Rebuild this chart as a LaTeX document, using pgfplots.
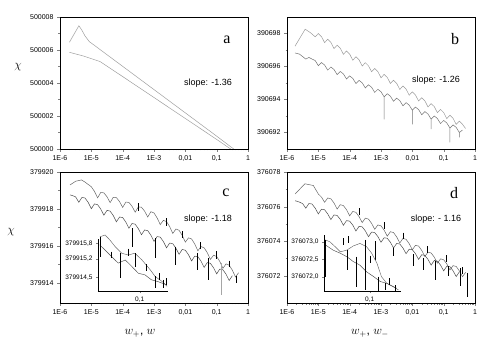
\documentclass[border=0pt]{standalone}
\usepackage{fontspec}
\setmainfont{Liberation Sans}
\newfontfamily\serif{Liberation Serif}
\usepackage{pgfplots}
\pgfplotsset{compat=1.18}

% y values are stored minus a base (500000, 390690, 379910, 376070),
% the full values only appear in the tick labels (FPU precision)
\pgfplotsset{
  panel/.style={scale only axis, width=188pt, anchor=north west,
    xmin=1e-6, xmax=1,
    xtick={1e-6,1e-5,1e-4,1e-3,1e-2,1e-1,1},
    xticklabels={1E-6,1E-5,1E-4,1E-3,0{,}01,0{,}1,1},
    minor y tick num=1, tick align=outside,
    xtick pos=bottom, ytick pos=left,
    major tick length=3pt, minor tick length=1.5pt,
    tick label style={font=\fontsize{7}{8}\selectfont},
    axis line style={line width=0.6pt},
    no markers, unbounded coords=jump,
    every axis plot/.append style={line width=0.5pt}},
  inset/.style={scale only axis, anchor=south west,
    xmin=0.02, xmax=0.3,
    xtick={0.1}, xticklabels={0{,}1},
    axis x line*=bottom, axis y line*=left, axis line style={-, line width=0.5pt},
    tick align=outside, major tick length=2pt, minor tick length=1pt,
    tick label style={font=\fontsize{6.5}{7}\selectfont},
    no markers, unbounded coords=jump, clip=false,
    every axis plot/.append style={line width=0.45pt}},
}

\begin{document}
\begin{tikzpicture}
\path[use as bounding box] (0,-357pt) rectangle (491pt,0);

% ---- a
\begin{axis}[xmode=log, panel, at={(60pt,-17pt)}, height=132pt,
  ymin=0, ymax=8, ytick={0,2,4,6,8},
  yticklabels={500000,500002,500004,500006,500008}]
\addplot[gray!75] coordinates {(2e-6,6.47) (4e-6,7.47) (5e-6,7.2) (6.3e-6,6.85) (8.7e-6,6.5)
  (1e-5,6.42) (1e-4,5.01) (1e-3,3.60) (1e-2,2.19) (0.1,0.78) (0.35,0.0)};
\addplot[gray!75] coordinates {(2e-6,5.86) (5.5e-6,5.64) (1.9e-5,5.3)
  (1e-4,4.39) (1e-3,3.12) (1e-2,1.85) (0.1,0.58) (0.28,0.0)};
\end{axis}

% ---- b
\begin{axis}[xmode=log, panel, at={(287pt,-17pt)}, height=132pt,
  ymin=1, ymax=9, ytick={2,4,6,8},
  yticklabels={390692,390694,390696,390698}]
\addplot[gray!80] coordinates {(1.8e-6,7.23) (3.8e-6,8.26) (5.6e-6,8.05) (7.943e-6,7.80)
  (1e-5,8.00) (1.259e-5,7.81) (1.585e-5,7.45) (1.995e-5,7.65) (2.512e-5,7.46) (3.162e-5,7.09)
  (3.981e-5,7.29) (5.012e-5,7.11) (6.310e-5,6.74) (7.943e-5,6.94) (1e-4,6.75) (1.259e-4,6.38)
  (1.585e-4,6.59) (1.995e-4,6.40) (2.512e-4,6.03) (3.162e-4,6.23) (3.981e-4,6.04) (5.012e-4,5.68)
  (6.310e-4,5.88) (7.943e-4,5.69) (1e-3,5.32) (1.259e-3,5.52) (1.585e-3,5.34) (1.995e-3,4.97)
  (2.512e-3,5.17) (3.162e-3,4.98) (3.981e-3,4.61) (5.012e-3,4.82) (6.310e-3,4.63) (7.943e-3,4.26)
  (1e-2,4.46) (1.259e-2,4.27) (1.585e-2,3.91) (1.995e-2,4.11) (2.512e-2,3.92) (3.162e-2,3.55)
  (3.981e-2,3.75) (5.012e-2,3.57) (6.310e-2,3.20) (7.943e-2,3.40) (0.1,3.21) (0.1259,2.84)
  (0.1585,3.05) (0.1995,2.86) (0.2512,2.49) (0.3162,2.69) (0.3981,2.50) (0.5012,2.24)};
\addplot[gray!90!black] coordinates {(1.8e-6,6.82) (2.512e-6,6.75) (3.162e-6,6.60) (3.981e-6,6.45)
  (5.012e-6,6.55) (6.310e-6,6.45) (7.943e-6,6.36) (1e-5,6.05) (1.259e-5,6.24) (1.585e-5,6.09)
  (1.995e-5,5.78) (2.512e-5,5.97) (3.162e-5,5.82) (3.981e-5,5.51) (5.012e-5,5.70) (6.310e-5,5.55)
  (7.943e-5,5.24) (1e-4,5.43) (1.259e-4,5.28) (1.585e-4,4.97) (1.995e-4,5.16) (2.512e-4,5.01)
  (3.162e-4,4.70) (3.981e-4,4.89) (5.012e-4,4.74) (6.310e-4,4.43) (7.943e-4,4.62) (1e-3,4.47)
  (1.259e-3,4.16) (1.259e-3,2.8) (1.259e-3,4.16) (1.585e-3,4.35) (1.995e-3,4.20) (2.512e-3,3.89)
  (3.162e-3,4.08) (3.981e-3,3.93) (5.012e-3,3.62) (6.310e-3,3.81) (7.943e-3,3.66)
  (1e-2,3.35) (1e-2,2.5) (1e-2,3.35) (1.259e-2,3.54) (1.585e-2,3.39) (1.995e-2,3.08)
  (2.512e-2,3.27) (3.162e-2,3.12) (3.981e-2,2.81) (3.981e-2,2.2) (3.981e-2,2.81) (5.012e-2,3.00)
  (6.310e-2,2.85) (7.943e-2,2.54) (0.1,2.73) (0.1259,2.58) (0.1585,2.27) (0.1585,1.4) (0.1585,2.27)
  (0.1995,2.46) (0.2512,2.31) (0.3162,2.00) (0.3162,1.7) (0.3162,2.00) (0.3981,2.15)};
\end{axis}

% ---- c
\begin{axis}[xmode=log, panel, at={(60pt,-172pt)}, height=131pt,
  ymin=2.9, ymax=10, ytick={4,6,8,10},
  yticklabels={379914,379916,379918,379920}]
\addplot[black!60] coordinates {(2.09e-6,9.30) (3.162e-6,9.50) (4.9e-6,9.57) (6.31e-6,9.45)
  (1e-5,9.20) (1.259e-5,8.95) (1.585e-5,8.60) (1.995e-5,8.89) (2.512e-5,8.87) (3.162e-5,8.66)
  (3.981e-5,8.34) (5.012e-5,8.63) (6.310e-5,8.61) (7.943e-5,8.40) (1e-4,8.08) (1.259e-4,8.37)
  (1.585e-4,8.35) (1.995e-4,8.14) (2.512e-4,7.82) (3.162e-4,8.11) (3.981e-4,8.09) (5.012e-4,7.88)
  (6.310e-4,7.56) (7.943e-4,7.85) (1e-3,7.78) (1.259e-3,7.51) (1.585e-3,7.15) (1.995e-3,7.38)
  (2.512e-3,7.31) (3.162e-3,7.04) (3.981e-3,6.67) (5.012e-3,6.91) (6.310e-3,6.84) (7.943e-3,6.57)
  (1e-2,6.20) (1.259e-2,6.43) (1.585e-2,6.37) (1.995e-2,6.10) (2.512e-2,5.73) (3.162e-2,5.96)
  (3.981e-2,5.89) (5.012e-2,5.63) (6.310e-2,5.26) (7.943e-2,5.49) (0.1,5.42) (0.1259,5.15)
  (0.1585,4.78) (0.1995,5.02) (0.2512,4.95) (0.3162,4.68) (0.3981,4.31) (0.5012,4.54)};
\addplot[black!70] coordinates {(2.09e-6,8.76) (2.512e-6,8.72) (3.162e-6,8.65) (3.981e-6,8.36)
  (5.012e-6,8.62) (6.310e-6,8.59) (7.943e-6,8.35) (1e-5,8.01) (1.259e-5,8.27) (1.585e-5,8.23)
  (1.995e-5,7.99) (2.512e-5,7.66) (3.162e-5,7.92) (3.981e-5,7.88) (5.012e-5,7.64) (6.310e-5,7.30)
  (7.943e-5,7.56) (1e-4,7.53) (1.259e-4,7.29) (1.585e-4,6.95) (1.995e-4,7.21) (2.512e-4,7.17)
  (3.162e-4,6.93) (3.981e-4,6.60) (5.012e-4,6.86) (6.310e-4,6.82) (7.943e-4,6.58) (1e-3,6.24)
  (1.259e-3,6.50) (1.585e-3,6.47) (1.995e-3,6.23) (2.512e-3,5.89) (3.162e-3,6.15) (3.981e-3,6.11)
  (5.012e-3,5.87) (6.310e-3,5.54) (7.943e-3,5.80) (1e-2,5.76) (1.259e-2,5.52) (1.585e-2,5.18)
  (1.995e-2,5.44) (2.512e-2,5.41) (3.162e-2,5.17) (3.981e-2,4.83) (5.012e-2,5.09) (6.310e-2,5.05)
  (7.943e-2,4.81) (0.1,4.48) (0.1259,4.74) (0.1585,4.70) (0.1995,4.46) (0.2512,4.12) (0.3162,4.38)};
% spikes
\addplot[black] coordinates {(1.95e-4,6.96) (1.95e-4,5.96) (1.95e-4,nan)
  (1.07e-3,6.42) (1.07e-3,5.34) (1.07e-3,nan) (4.68e-3,5.96) (4.68e-3,4.97) (4.68e-3,nan)
  (2.45e-2,5.61) (2.45e-2,4.70) (2.45e-2,nan) (5.37e-2,5.34) (5.37e-2,4.16) (5.37e-2,nan)
  (0.417,4.34) (0.417,3.98) (0.417,nan)
  (3.2e-4,8.3) (3.2e-4,7.9) (3.2e-4,nan) (2.5e-3,7.5) (2.5e-3,7.1) (2.5e-3,nan)
  (8e-3,6.8) (8e-3,6.4) (8e-3,nan) (3e-2,6.2) (3e-2,5.8) (3e-2,nan)
  (0.1,5.7) (0.1,5.3) (0.1,nan) (0.25,5.2) (0.25,4.85)};
\addplot[gray!70, line width=0.8pt] coordinates {(0.144,5.06) (0.144,3.35)};
\end{axis}

\begin{axis}[xmode=log, inset, at={(98pt,-291pt)}, width=70pt, height=51.6pt,
  ymin=3.97, ymax=5.95, ytick={4.5,5.2,5.8},
  yticklabels={379914{,}5,379915{,}2,379915{,}8}]
\addplot[black!60] coordinates {(0.0216,6.05) (0.0263,6.12) (0.0316,5.93) (0.0389,5.67)
  (0.0501,5.42) (0.0646,5.35) (0.0832,5.42) (0.1096,5.16) (0.1514,4.78) (0.182,4.53)
  (0.240,4.33) (0.29,4.15)};
\addplot[black!70] coordinates {(0.0214,5.74) (0.0263,5.54) (0.0339,5.29) (0.0437,5.04)
  (0.0575,5.16) (0.0741,4.91) (0.0955,4.65) (0.123,4.59) (0.158,4.40) (0.204,4.33) (0.282,4.21)};
\addplot[black] coordinates {(0.0216,6.05) (0.0216,5.29) (0.0216,nan)
  (0.0468,5.42) (0.0468,4.47) (0.0468,nan) (0.0832,5.42) (0.0832,4.91) (0.0832,nan)
  (0.182,4.53) (0.182,4.09) (0.182,nan) (0.251,4.40) (0.251,4.09) (0.251,nan)
  (0.0339,5.48) (0.0339,5.23) (0.0339,nan) (0.065,5.6) (0.065,5.3) (0.065,nan)
  (0.13,5.0) (0.13,4.75) (0.13,nan) (0.21,4.65) (0.21,4.4) (0.21,nan) (0.28,4.45) (0.28,4.2)};
\end{axis}

% ---- d
\begin{axis}[xmode=log, panel, at={(287pt,-172pt)}, height=131pt,
  ymin=0.43, ymax=8, ytick={2,4,6,8},
  yticklabels={376072,376074,376076,376078}]
\addplot[black!60] coordinates {(1.82e-6,6.73) (3.72e-6,7.32) (6.92e-6,7.22) (1e-5,6.73)
  (1.259e-5,6.55) (1.585e-5,6.25) (1.995e-5,6.50) (2.512e-5,6.45) (3.162e-5,6.21) (3.981e-5,5.86)
  (5.012e-5,6.11) (6.310e-5,6.06) (7.943e-5,5.82) (1e-4,5.47) (1.259e-4,5.72) (1.585e-4,5.67)
  (1.995e-4,5.42) (2.512e-4,5.08) (3.162e-4,5.33) (3.981e-4,5.28) (5.012e-4,5.03) (6.310e-4,4.69)
  (7.943e-4,4.94) (1e-3,4.89) (1.259e-3,4.64) (1.585e-3,4.29) (1.995e-3,4.55) (2.512e-3,4.50)
  (3.162e-3,4.25) (3.981e-3,3.90) (5.012e-3,4.16) (6.310e-3,4.11) (7.943e-3,3.86) (1e-2,3.51)
  (1.259e-2,3.76) (1.585e-2,3.72) (1.995e-2,3.47) (2.512e-2,3.12) (3.162e-2,3.37) (3.981e-2,3.32)
  (5.012e-2,3.08) (6.310e-2,2.73) (7.943e-2,2.98) (0.1,2.93) (0.1259,2.69) (0.1585,2.34)
  (0.1995,2.59) (0.2512,2.54) (0.3162,2.29) (0.3981,1.95) (0.5012,2.20)};
\addplot[black!70] coordinates {(1.82e-6,6.34) (2.512e-6,6.26) (3.162e-6,6.17) (3.981e-6,5.91)
  (5.012e-6,6.18) (6.310e-6,6.15) (7.943e-6,5.91) (1e-5,5.58) (1.259e-5,5.85) (1.585e-5,5.82)
  (1.995e-5,5.58) (2.512e-5,5.25) (3.162e-5,5.52) (3.981e-5,5.49) (5.012e-5,5.26) (6.310e-5,4.92)
  (7.943e-5,5.19) (1e-4,5.16) (1.259e-4,4.93) (1.585e-4,4.59) (1.995e-4,4.86) (2.512e-4,4.83)
  (3.162e-4,4.60) (3.981e-4,4.26) (5.012e-4,4.53) (6.310e-4,4.50) (7.943e-4,4.27) (1e-3,3.94)
  (1.259e-3,4.20) (1.585e-3,4.17) (1.995e-3,3.94) (2.512e-3,3.61) (3.162e-3,3.87) (3.981e-3,3.84)
  (5.012e-3,3.61) (6.310e-3,3.28) (7.943e-3,3.54) (1e-2,3.51) (1.259e-2,3.28) (1.585e-2,2.95)
  (1.995e-2,3.22) (2.512e-2,3.18) (3.162e-2,2.95) (3.981e-2,2.62) (5.012e-2,2.89) (6.310e-2,2.85)
  (7.943e-2,2.62) (0.1,2.29) (0.1259,2.56) (0.1585,2.53) (0.1995,2.29) (0.2512,1.96) (0.3162,2.23)};
\addplot[black] coordinates {(6.46e-4,4.01) (6.46e-4,2.94) (6.46e-4,nan)
  (2.45e-3,3.63) (2.45e-3,3.14) (2.45e-3,nan) (1.07e-2,3.24) (1.07e-2,2.55) (1.07e-2,nan)
  (2.24e-2,3.04) (2.24e-2,2.36) (2.24e-2,nan) (5.25e-2,2.85) (5.25e-2,1.78) (5.25e-2,nan)
  (0.141,2.55) (0.141,1.97) (0.141,nan) (0.331,2.46) (0.331,1.39) (0.331,nan)
  (0.550,2.17) (0.550,0.80) (0.550,nan)
  (2e-4,5.9) (2e-4,5.5) (2e-4,nan) (1.3e-3,5.1) (1.3e-3,4.7) (1.3e-3,nan)
  (5e-3,4.5) (5e-3,4.1) (5e-3,nan) (3e-2,3.7) (3e-2,3.3) (3e-2,nan)
  (0.12,3.2) (0.12,2.8) (0.12,nan) (0.4,2.5) (0.4,2.1)};
\end{axis}

\begin{axis}[xmode=log, inset, at={(324pt,-291pt)}, width=77pt, height=56.3pt,
  ymin=1.59, ymax=3.2, ytick={2.0,2.5,3.0},
  yticklabels={376072{,}0,376072{,}5,376073{,}0}]
\addplot[black!60] coordinates {(0.0209,3.05) (0.0245,3.00) (0.0295,2.86) (0.0355,2.71)
  (0.0447,2.76) (0.0562,2.88) (0.0708,2.95) (0.0891,2.86) (0.107,2.67) (0.129,2.38)
  (0.151,2.00) (0.182,1.81) (0.229,1.71) (0.275,1.62)};
\addplot[black!70] coordinates {(0.0209,2.91) (0.0275,2.76) (0.0355,2.67) (0.0447,2.57)
  (0.0562,2.43) (0.0708,2.33) (0.0891,2.14) (0.115,2.00) (0.145,1.86) (0.182,1.81) (0.257,1.67)};
\addplot[black] coordinates {(0.0207,3.05) (0.0207,2.0) (0.0207,nan)
  (0.0447,2.76) (0.0447,2.19) (0.0447,nan) (0.0631,2.57) (0.0631,1.71) (0.0631,nan)
  (0.0851,3.05) (0.0851,1.62) (0.0851,nan) (0.135,2.0) (0.135,1.6) (0.135,nan)
  (0.172,1.81) (0.172,1.62) (0.172,nan) (0.245,1.76) (0.245,1.6) (0.245,nan)
  (0.040,3.1) (0.040,2.9) (0.040,nan) (0.047,3.15) (0.047,2.95) (0.047,nan)
  (0.1,2.6) (0.1,2.4) (0.1,nan) (0.2,1.95) (0.2,1.75)};
\end{axis}

% labels
\node[font=\serif\fontsize{16}{16}\selectfont] at (227pt,-40pt) {a};
\node[font=\serif\fontsize{16}{16}\selectfont] at (455pt,-39pt) {b};
\node[font=\serif\fontsize{16}{16}\selectfont] at (226pt,-193pt) {c};
\node[font=\serif\fontsize{16}{16}\selectfont] at (454pt,-193pt) {d};
\node[font=\fontsize{9}{10}\selectfont] at (208pt,-83pt) {slope: -1.36};
\node[font=\fontsize{9}{10}\selectfont] at (436pt,-80pt) {slope: -1.26};
\node[font=\fontsize{9}{10}\selectfont] at (208pt,-219pt) {slope: -1.18};
\node[font=\fontsize{9}{10}\selectfont] at (436pt,-219pt) {slope: - 1.16};
\node[font=\fontsize{13}{13}\selectfont] at (18pt,-67pt) {$\chi$};
\node[font=\fontsize{13}{13}\selectfont] at (11pt,-232pt) {$\chi$};
\node[font=\fontsize{12}{12}\selectfont] at (140pt,-333pt) {$w_{+}$, $w$};
\node[font=\fontsize{12}{12}\selectfont] at (370pt,-333pt) {$w_{+}$, $w_{-}$};
\end{tikzpicture}
\end{document}
